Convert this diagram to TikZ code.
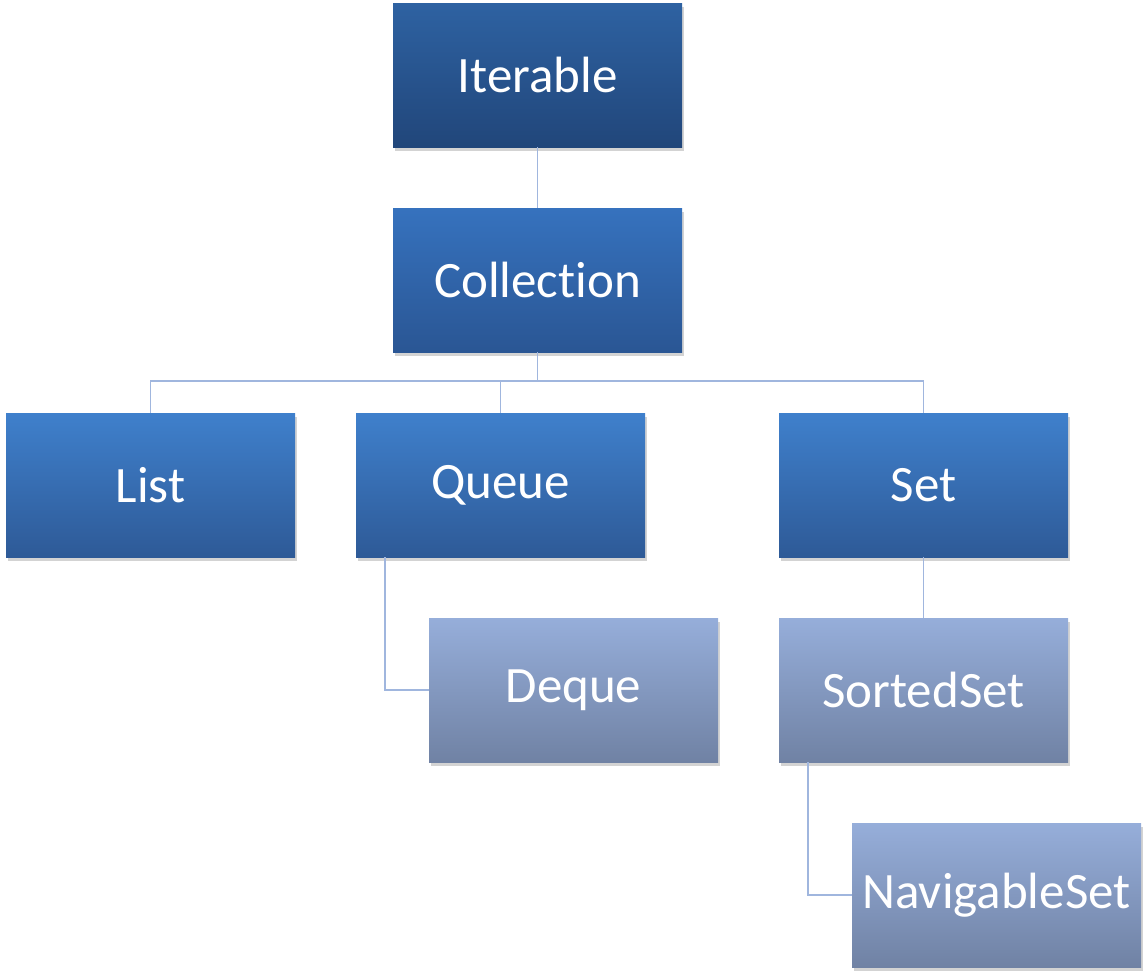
\documentclass[tikz,border=0pt]{standalone}
\usepackage{fontspec}
\setmainfont[Ligatures=NoCommon]{Carlito}
\usetikzlibrary{shadows,calc}
\definecolor{topA}{RGB}{46,98,162}
\definecolor{botA}{RGB}{33,70,122}
\definecolor{topB}{RGB}{54,114,190}
\definecolor{botB}{RGB}{42,86,148}
\definecolor{topC}{RGB}{63,128,204}
\definecolor{botC}{RGB}{46,90,151}
\definecolor{topD}{RGB}{150,174,218}
\definecolor{botD}{RGB}{112,130,164}
\definecolor{linkc}{RGB}{160,182,222}
\tikzset{
  box/.style={rectangle, minimum width=289pt, minimum height=144pt, inner sep=0pt,
    text=white, font=\fontsize{51}{60}\selectfont,
    drop shadow={opacity=0.35, shadow xshift=2pt, shadow yshift=-4pt}},
  boxA/.style={box, top color=topA, bottom color=botA},
  boxB/.style={box, top color=topB, bottom color=botB},
  boxC/.style={box, top color=topC, bottom color=botC},
  boxD/.style={box, top color=topD, bottom color=botD},
  link/.style={draw=linkc, line width=1.5pt}
}
\begin{document}
\begin{tikzpicture}[x=1pt,y=-1pt]
\useasboundingbox (0,0) rectangle (1148,978);
\node[boxA] (iter) at (537.5,75) {Iterable};
\node[boxB] (coll) at (537.5,280) {Collection};
\node[boxC] (list) at (150.5,485) {List};
\node[boxC] (queue) at (500.5,485) {Queue};
\node[boxC] (set) at (923.5,485) {Set};
\node[boxD] (deque) at (573.5,690) {Deque};
\node[boxD] (sorted) at (923.5,690) {SortedSet};
\node[boxD] (nav) at (996.5,895) {NavigableSet};
\coordinate (bus) at (537.5,381);
\begin{scope}[on background layer/.style={}]
\draw[link] (iter.south) -- (coll.north);
\draw[link] (coll.south) -- (bus);
\draw[link] (bus) -| (list.north);
\draw[link] (bus) -| (queue.north);
\draw[link] (bus) -| (set.north);
\draw[link] ([xshift=29pt]queue.south west) |- (deque.west);
\draw[link] (set.south) -- (sorted.north);
\draw[link] ([xshift=29pt]sorted.south west) |- (nav.west);
\end{scope}
\end{tikzpicture}
\end{document}
